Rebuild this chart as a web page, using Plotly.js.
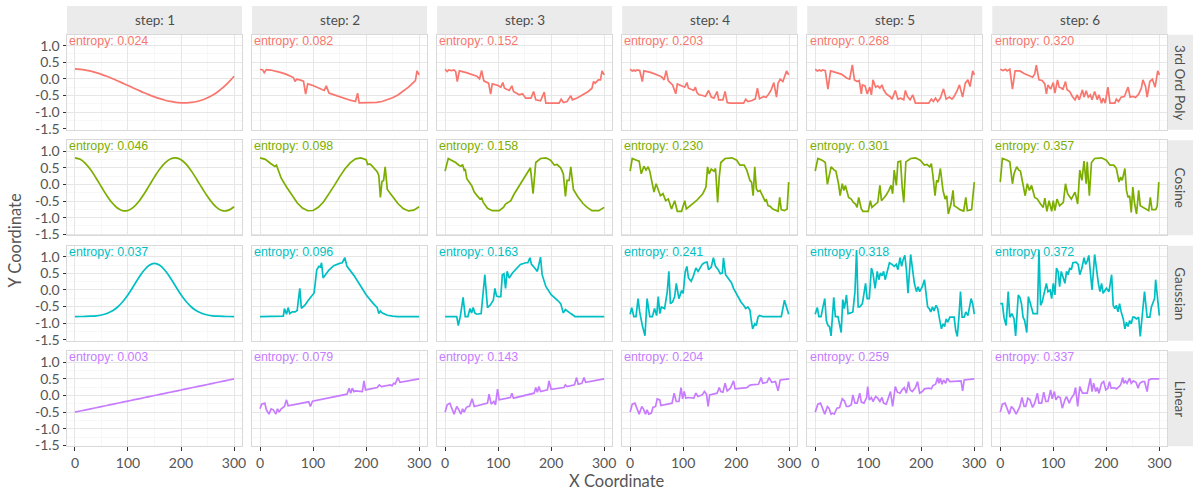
<!DOCTYPE html>
<html><head><meta charset="utf-8">
<script src="https://cdn.plot.ly/plotly-3.0.1.min.js"></script>
<style>html,body{margin:0;padding:0;background:#fff}#chart{width:1193px;height:491px}</style>
</head><body><div id="chart"></div>
<script>
// ---------- categories / labels ----------
const steps = ['step: 1','step: 2','step: 3','step: 4','step: 5','step: 6'];
const groups = ['3rd Ord Poly','Cosine','Gaussian','Linear'];
const groupColors = ['#F8766D','#7CAE00','#00BFC4','#C77CFF'];
const entropyPoly = ['0.024','0.082','0.152','0.203','0.268','0.320'];
const entropyCos  = ['0.046','0.098','0.158','0.230','0.301','0.357'];
const entropyGau  = ['0.037','0.096','0.163','0.241','0.318','0.372'];
const entropyLin  = ['0.003','0.079','0.143','0.204','0.259','0.337'];
const xTickVals = [0,100,200,300];
const xTickText = ['0','100','200','300'];
const yTickVals = [-1.5,-1,-0.5,0,0.5,1];
const yTickText = ['-1.5','-1.0','-0.5','0.0','0.5','1.0'];

// ---------- step 1 (smooth) series ----------
const X10 = [0,10,20,30,40,50,60,70,80,90,100,110,120,130,140,150,160,170,180,190,200,210,220,230,240,250,260,270,280,290,300];
const poly1Y = [0.300,0.289,0.266,0.232,0.188,0.136,0.077,0.013,-0.056,-0.127,-0.200,-0.273,-0.345,-0.415,-0.481,-0.541,-0.595,-0.642,-0.679,-0.706,-0.720,-0.722,-0.709,-0.680,-0.634,-0.569,-0.485,-0.379,-0.251,-0.098,0.079];
const cos1Y  = [0.800,0.756,0.629,0.432,0.188,-0.077,-0.333,-0.553,-0.711,-0.792,-0.785,-0.690,-0.523,-0.296,-0.037,0.227,0.464,0.650,0.768,0.799,0.745,0.603,0.393,0.143,-0.116,-0.364,-0.575,-0.729,-0.798,-0.774,-0.671];
const gau1Y  = [-0.800,-0.799,-0.796,-0.790,-0.778,-0.754,-0.710,-0.636,-0.520,-0.355,-0.142,0.106,0.362,0.588,0.744,0.800,0.744,0.588,0.362,0.106,-0.142,-0.355,-0.520,-0.636,-0.710,-0.754,-0.778,-0.790,-0.796,-0.799,-0.800];
const lin1Y  = [-0.5,-0.467,-0.433,-0.4,-0.367,-0.333,-0.3,-0.267,-0.233,-0.2,-0.167,-0.133,-0.1,-0.067,-0.033,0,0.033,0.067,0.1,0.133,0.167,0.2,0.233,0.267,0.3,0.333,0.367,0.4,0.433,0.467,0.5];

// ---------- noisy series: [x, y] pairs ----------
const poly2 = [[0,0.29],[5,0.27],[8,0.19],[12,0.28],[20,0.266],[30,0.232],[40,0.188],[50,0.136],[60,0.077],[63,0.04],[66,-0.08],[69,-0.01],[75,-0.03],[82,-0.07],[86,-0.46],[90,-0.15],[100,-0.2],[110,-0.273],[121,-0.35],[125,-0.21],[130,-0.43],[140,-0.481],[150,-0.541],[160,-0.595],[170,-0.642],[180,-0.68],[184,-0.43],[187,-0.72],[195,-0.72],[200,-0.72],[210,-0.722],[220,-0.709],[230,-0.68],[240,-0.634],[250,-0.569],[260,-0.485],[270,-0.379],[280,-0.251],[290,-0.098],[293,-0.05],[296,0.24],[300,0.12]];
const poly3 = [[0,0.29],[4,0.22],[7,0.27],[12,0.25],[17,0.27],[20,0.22],[23,-0.08],[27,0.24],[40,0.188],[50,0.136],[60,0.077],[65,0.0],[69,0.25],[73,-0.06],[82,-0.13],[86,-0.46],[89,-0.15],[100,-0.2],[105,-0.25],[109,-0.11],[112,-0.28],[121,-0.35],[126,-0.21],[129,-0.38],[140,-0.48],[146,-0.45],[152,-0.58],[162,-0.58],[167,-0.38],[171,-0.63],[180,-0.66],[187,-0.4],[190,-0.73],[215,-0.73],[219,-0.61],[223,-0.71],[230,-0.68],[237,-0.51],[240,-0.63],[250,-0.569],[260,-0.485],[270,-0.379],[277,-0.28],[280,-0.08],[283,-0.13],[289,-0.03],[293,-0.03],[296,0.24],[300,0.12]];
const poly4 = [[0,0.29],[4,0.24],[7,0.27],[10,0.24],[13,0.27],[18,0.25],[23,-0.08],[26,0.24],[40,0.188],[50,0.136],[56,0.09],[60,0.05],[64,-0.03],[68,0.25],[72,-0.06],[80,-0.18],[86,-0.45],[89,-0.15],[103,-0.25],[107,-0.11],[110,-0.28],[120,-0.35],[123,-0.25],[126,-0.41],[130,-0.48],[137,-0.5],[142,-0.53],[148,-0.35],[153,-0.55],[158,-0.58],[164,-0.38],[167,-0.63],[175,-0.63],[179,-0.38],[183,-0.71],[188,-0.73],[214,-0.73],[218,-0.61],[222,-0.68],[230,-0.65],[236,-0.6],[240,-0.28],[244,-0.6],[252,-0.53],[256,-0.56],[261,-0.46],[266,-0.33],[271,-0.11],[276,-0.55],[279,-0.13],[283,-0.01],[288,-0.08],[295,0.24],[299,0.12]];
const poly5 = [[0,0.29],[4,0.24],[8,0.27],[11,0.24],[14,0.27],[19,0.25],[24,-0.31],[29,0.24],[40,0.188],[50,0.136],[60,0.02],[65,-0.01],[70,0.42],[74,-0.03],[79,-0.08],[83,-0.05],[87,-0.45],[89,-0.18],[94,-0.21],[98,-0.45],[103,-0.25],[106,-0.48],[109,-0.03],[114,-0.25],[118,-0.21],[122,-0.28],[126,-0.18],[129,-0.33],[134,-0.45],[141,-0.53],[145,-0.61],[151,-0.35],[156,-0.61],[161,-0.58],[167,-0.63],[170,-0.35],[174,-0.53],[179,-0.63],[184,-0.48],[189,-0.73],[214,-0.73],[219,-0.61],[223,-0.68],[227,-0.58],[231,-0.68],[236,-0.58],[242,-0.3],[247,-0.61],[253,-0.55],[258,-0.61],[262,-0.53],[267,-0.38],[272,-0.18],[278,-0.55],[283,-0.13],[288,-0.03],[292,-0.23],[297,0.24],[300,0.12]];
const poly6 = [[0,0.29],[5,0.25],[10,0.29],[13,0.24],[18,0.29],[23,-0.31],[28,0.24],[37,0.24],[45,0.16],[56,0.09],[61,0.05],[65,0.15],[68,0.41],[73,-0.03],[79,-0.05],[84,-0.15],[87,-0.45],[90,-0.18],[95,-0.31],[100,-0.11],[103,-0.43],[108,-0.03],[111,-0.25],[116,-0.28],[118,-0.33],[123,-0.08],[126,-0.33],[131,-0.38],[136,-0.53],[141,-0.63],[145,-0.48],[149,-0.63],[155,-0.33],[158,-0.55],[162,-0.36],[166,-0.55],[170,-0.48],[173,-0.63],[178,-0.38],[183,-0.63],[186,-0.48],[191,-0.73],[194,-0.58],[198,-0.73],[203,-0.25],[207,-0.73],[216,-0.73],[219,-0.61],[223,-0.68],[228,-0.55],[234,-0.53],[241,-0.25],[245,-0.55],[250,-0.53],[255,-0.56],[261,-0.46],[266,-0.28],[269,-0.03],[274,-0.23],[277,-0.55],[282,-0.08],[287,-0.01],[292,-0.25],[297,0.24],[300,0.12]];

const cos2 = [[0,0.8],[10,0.756],[20,0.629],[25,0.58],[28,0.54],[31,0.58],[36,0.35],[40,0.188],[50,-0.077],[60,-0.333],[70,-0.553],[80,-0.711],[90,-0.792],[100,-0.785],[110,-0.69],[120,-0.523],[130,-0.296],[140,-0.037],[150,0.227],[160,0.464],[170,0.65],[180,0.768],[190,0.799],[200,0.745],[203,0.6],[207,0.62],[210,0.58],[215,0.48],[221,0.38],[224,0.27],[227,-0.39],[230,0.09],[233,0.12],[236,0.53],[240,-0.15],[250,-0.364],[260,-0.575],[270,-0.729],[280,-0.798],[290,-0.774],[300,-0.671]];
const cos3 = [[0,0.4],[6,0.78],[12,0.73],[20,0.66],[26,0.58],[30,0.55],[33,0.6],[36,0.43],[38,0.46],[41,0.17],[50,-0.03],[55,-0.23],[60,-0.33],[66,-0.44],[69,-0.41],[72,-0.54],[80,-0.72],[89,-0.79],[102,-0.79],[110,-0.69],[114,-0.59],[119,-0.54],[124,-0.49],[130,-0.296],[140,-0.037],[150,0.227],[161,0.5],[166,-0.28],[171,0.66],[180,0.78],[190,0.8],[199,0.73],[206,0.58],[211,0.6],[218,0.5],[223,0.32],[227,-0.36],[230,0.12],[234,0.12],[237,0.53],[242,-0.15],[250,-0.364],[260,-0.575],[268,-0.69],[277,-0.79],[290,-0.79],[300,-0.69]];
const cos4 = [[0,0.4],[4,0.78],[12,0.73],[17,0.7],[21,0.32],[26,0.55],[30,0.43],[34,0.53],[37,0.4],[41,0.02],[45,-0.23],[49,0.02],[53,-0.18],[57,-0.34],[62,-0.28],[67,-0.49],[72,-0.44],[78,-0.74],[84,-0.49],[89,-0.81],[97,-0.81],[103,-0.49],[106,-0.74],[112,-0.66],[119,-0.59],[125,-0.49],[137,-0.28],[143,-0.08],[146,0.53],[149,0.32],[153,0.46],[158,0.4],[161,0.48],[165,-0.54],[168,0.22],[171,0.66],[179,0.78],[192,0.8],[201,0.73],[207,0.58],[215,0.58],[220,0.43],[226,0.12],[229,0.07],[232,-0.34],[235,0.53],[238,-0.13],[241,-0.21],[245,-0.18],[249,-0.34],[254,-0.49],[257,-0.46],[260,-0.64],[264,-0.66],[269,-0.74],[279,-0.81],[282,-0.39],[285,-0.76],[291,-0.79],[296,-0.74],[299,0.07]];
const cos5 = [[0,0.4],[5,0.78],[13,0.73],[19,0.66],[23,0.0],[27,0.32],[30,0.53],[36,0.43],[39,0.4],[44,0.02],[47,-0.34],[51,0.02],[54,-0.18],[57,-0.03],[60,-0.18],[63,-0.39],[68,-0.44],[72,-0.54],[76,-0.59],[79,-0.69],[82,-0.39],[87,-0.74],[90,-0.81],[100,-0.81],[104,-0.49],[107,-0.69],[114,-0.59],[118,-0.54],[122,-0.03],[125,-0.49],[133,-0.34],[139,-0.18],[143,-0.03],[146,-0.28],[149,0.43],[153,-0.03],[156,0.68],[161,0.7],[164,-0.08],[167,-0.54],[171,0.68],[180,0.78],[189,0.8],[198,0.73],[206,0.58],[211,0.6],[216,0.53],[219,0.63],[222,0.27],[226,-0.34],[229,0.12],[232,0.07],[236,0.48],[241,-0.18],[245,-0.44],[248,-0.34],[251,-0.89],[256,-0.59],[260,-0.18],[262,-0.64],[267,-0.69],[273,-0.76],[280,-0.8],[284,-0.39],[287,-0.79],[295,-0.76],[300,0.07]];
const cos6 = [[0,0.07],[4,0.78],[13,0.73],[18,0.68],[23,0.02],[26,0.32],[31,0.53],[35,0.43],[38,0.4],[43,-0.03],[47,-0.34],[51,0.02],[55,-0.18],[59,-0.03],[62,-0.18],[65,-0.39],[70,-0.44],[73,-0.54],[76,-0.59],[81,-0.69],[84,-0.41],[88,-0.81],[92,-0.49],[97,-0.81],[100,-0.49],[103,-0.79],[107,-0.44],[112,-0.64],[119,-0.54],[123,0.02],[127,-0.28],[134,-0.44],[141,-0.23],[146,-0.59],[150,0.43],[154,0.12],[158,0.7],[162,0.02],[164,0.68],[168,-0.34],[172,0.66],[178,0.78],[191,0.8],[200,0.73],[207,0.58],[214,0.58],[219,0.48],[224,0.07],[227,0.22],[230,0.12],[235,0.48],[238,-0.18],[241,-0.39],[244,-0.34],[247,-0.84],[250,-0.08],[253,-0.54],[257,-0.89],[261,-0.18],[264,-0.64],[269,-0.69],[275,-0.76],[280,-0.79],[283,-0.39],[286,-0.76],[293,-0.76],[296,-0.66],[299,0.07]];

const gau2 = [[0,-0.8],[40,-0.8],[44,-0.79],[46,-0.56],[50,-0.73],[53,-0.53],[56,-0.71],[61,-0.66],[66,-0.66],[70,-0.62],[73,-0.2],[75,0.05],[78,-0.55],[85,-0.45],[90,-0.33],[95,-0.22],[102,-0.09],[107,0.61],[111,0.71],[114,0.69],[116,0.82],[119,0.36],[124,0.46],[130,0.6],[139,0.73],[145,0.78],[150,0.8],[155,0.82],[160,0.97],[164,0.71],[170,0.6],[177,0.44],[185,0.24],[190,0.106],[200,-0.142],[212,-0.38],[218,-0.47],[221,-0.53],[224,-0.71],[227,-0.63],[230,-0.69],[235,-0.72],[240,-0.76],[250,-0.785],[260,-0.8],[300,-0.8]];
const gau3 = [[0,-0.8],[22,-0.8],[25,-1.07],[29,-0.77],[34,-0.22],[38,-0.8],[43,-0.8],[47,-0.56],[50,-0.69],[53,-0.53],[56,-0.69],[60,-0.73],[68,-0.71],[72,-0.05],[75,0.46],[80,-0.53],[85,-0.46],[91,-0.31],[94,0.05],[97,-0.18],[100,-0.2],[105,-0.2],[108,0.46],[111,0.49],[114,0.05],[117,0.56],[121,0.36],[127,0.51],[135,0.66],[142,0.77],[152,0.82],[156,0.82],[160,0.97],[163,0.77],[169,0.66],[174,0.56],[180,0.99],[183,0.46],[190,0.106],[200,-0.142],[212,-0.31],[218,-0.41],[223,-0.69],[227,-0.59],[237,-0.71],[245,-0.8],[260,-0.8],[300,-0.8]];
const gau4 = [[0,-0.73],[3,-0.53],[7,-0.8],[11,-0.8],[15,-0.26],[18,-0.66],[23,-1.07],[28,-1.38],[32,-0.26],[37,-0.8],[42,-0.8],[46,-0.56],[50,-0.77],[53,-0.2],[56,-0.71],[59,-0.51],[65,-0.56],[70,-0.05],[73,0.56],[76,-0.41],[80,-0.36],[84,-0.2],[87,0.2],[90,-0.15],[92,-0.26],[97,-0.02],[100,-0.1],[104,0.56],[107,0.71],[110,0.36],[115,0.26],[119,0.41],[124,0.66],[128,0.56],[132,0.66],[136,0.77],[140,0.82],[145,0.84],[148,0.61],[153,0.69],[157,0.97],[161,0.71],[166,0.61],[170,0.49],[174,0.51],[176,0.97],[180,0.46],[185,0.36],[191,0.22],[195,0.05],[203,-0.2],[209,-0.36],[214,-0.46],[218,-0.56],[222,-0.51],[226,-0.61],[228,-0.87],[231,-1.17],[235,-1.02],[238,-1.07],[241,-0.82],[244,-0.77],[250,-0.8],[285,-0.8],[291,-0.31],[295,-0.5],[299,-0.73]];
const gau5 = [[0,-0.73],[4,-0.53],[7,-0.8],[11,-0.8],[14,-0.56],[18,-0.26],[21,-0.92],[24,-1.07],[27,-1.1],[30,-1.38],[35,-0.22],[38,-0.8],[43,-0.8],[46,-1.04],[49,-1.28],[52,-0.29],[55,-0.56],[59,-0.15],[62,-0.71],[67,-0.69],[71,-0.66],[75,-0.05],[78,1.2],[81,-0.51],[84,-0.51],[89,-0.41],[92,-0.15],[95,0.2],[98,-0.26],[102,-0.26],[106,0.66],[109,0.49],[113,0.05],[117,0.56],[120,0.31],[123,0.51],[126,0.43],[129,0.56],[132,0.31],[137,0.66],[140,0.82],[145,0.77],[149,0.71],[153,0.77],[156,0.61],[160,0.97],[163,0.71],[166,0.92],[169,1.04],[172,0.61],[175,-0.1],[180,1.07],[184,0.46],[187,0.2],[191,-0.05],[194,0.1],[197,-0.05],[202,0.1],[206,0.31],[209,-0.2],[212,-0.51],[215,-0.56],[218,-0.66],[221,-0.51],[224,-0.63],[228,-0.46],[231,-0.56],[235,-0.92],[238,-1.17],[241,-1.02],[244,-1.1],[247,-0.87],[250,-0.97],[254,-0.82],[262,-0.82],[265,-1.22],[268,-1.4],[271,-0.82],[274,-0.05],[277,-0.82],[281,-0.82],[284,-0.66],[288,-0.77],[294,-0.26],[297,-0.41],[300,-0.73]];
const gau6 = [[0,-0.41],[4,-0.41],[7,-0.82],[11,-1.07],[15,-0.05],[18,-0.82],[22,-0.71],[26,-0.87],[29,-1.38],[34,-0.15],[37,-0.22],[40,-0.41],[43,-0.82],[46,-0.92],[50,-1.28],[53,-0.2],[56,-0.36],[59,-0.56],[62,-0.71],[65,-0.71],[70,-0.71],[73,1.2],[76,-0.46],[79,-0.36],[84,-0.05],[87,0.2],[90,-0.05],[94,0.0],[97,-0.26],[100,0.2],[103,-0.15],[106,0.66],[109,0.56],[112,0.1],[115,0.56],[118,0.41],[122,0.2],[125,0.56],[128,0.46],[131,0.66],[134,0.61],[137,0.82],[143,0.84],[147,0.77],[150,0.46],[154,0.66],[158,0.97],[161,0.77],[164,0.87],[167,1.04],[170,0.56],[173,0.0],[178,1.07],[182,0.46],[185,0.2],[188,-0.05],[191,0.2],[194,-0.1],[197,0.0],[200,0.05],[205,-0.05],[210,0.46],[213,-0.46],[216,-0.56],[219,-0.46],[222,-0.66],[225,-0.41],[228,-0.66],[232,-0.87],[235,-1.17],[238,-0.97],[241,-1.1],[244,-0.92],[247,-1.02],[250,-0.82],[253,-0.82],[257,-0.87],[261,-0.82],[264,-1.4],[268,-0.82],[272,-0.05],[277,-0.82],[282,-0.82],[285,-0.51],[288,-0.36],[291,-0.26],[293,0.31],[298,-0.51],[300,-0.77]];

const lin2 = [[0,-0.4],[3,-0.26],[9,-0.23],[12,-0.43],[17,-0.56],[21,-0.4],[25,-0.43],[30,-0.56],[33,-0.4],[36,-0.5],[40,-0.4],[43,-0.36],[46,-0.33],[50,-0.13],[53,-0.31],[92,-0.19],[95,-0.33],[99,-0.17],[164,0.04],[168,0.22],[171,0.07],[174,0.22],[177,0.12],[180,0.14],[193,0.12],[196,0.44],[199,0.17],[221,0.24],[225,0.32],[229,0.27],[246,0.32],[249,0.29],[252,0.37],[255,0.35],[258,0.48],[260,0.54],[264,0.4],[300,0.5]];
const lin3 = [[0,-0.5],[4,-0.28],[9,-0.23],[12,-0.38],[17,-0.56],[22,-0.33],[25,-0.4],[30,-0.56],[33,-0.4],[36,-0.5],[40,-0.36],[43,-0.33],[46,-0.33],[51,-0.1],[55,-0.33],[80,-0.23],[83,0.04],[87,-0.26],[92,-0.18],[95,-0.28],[99,0.19],[102,-0.13],[123,-0.06],[126,0.07],[129,-0.08],[168,0.07],[171,0.24],[174,0.1],[177,0.27],[180,0.12],[193,0.17],[196,0.44],[200,0.19],[224,0.24],[227,0.32],[230,0.27],[244,0.32],[248,0.54],[251,0.34],[258,0.37],[262,0.54],[265,0.4],[300,0.5]];
const lin4 = [[0,-0.5],[4,-0.26],[9,-0.23],[12,-0.38],[17,-0.56],[22,-0.33],[25,-0.4],[29,-0.56],[32,-0.43],[35,-0.56],[40,-0.53],[43,-0.36],[48,-0.33],[51,-0.1],[56,-0.13],[58,-0.3],[79,-0.23],[83,0.07],[87,-0.18],[92,-0.18],[96,0.24],[99,-0.1],[102,0.12],[105,-0.08],[109,-0.06],[120,-0.08],[124,0.07],[128,-0.03],[136,0.02],[140,0.12],[144,0.04],[147,-0.33],[150,0.02],[164,0.07],[168,0.24],[171,0.12],[175,0.1],[179,0.37],[183,0.14],[189,0.22],[195,0.44],[198,0.2],[214,0.22],[220,0.24],[225,0.3],[228,0.32],[242,0.34],[247,0.54],[250,0.37],[258,0.4],[262,0.54],[267,0.4],[274,0.42],[279,0.14],[283,0.47],[300,0.5]];
const lin5 = [[0,-0.5],[5,-0.26],[10,-0.23],[13,-0.38],[18,-0.56],[23,-0.33],[26,-0.38],[30,-0.56],[33,-0.53],[36,-0.56],[41,-0.38],[46,-0.36],[51,-0.1],[55,-0.16],[59,-0.33],[63,-0.33],[68,-0.28],[71,0.02],[75,-0.23],[79,-0.23],[84,0.07],[87,-0.2],[92,-0.23],[97,-0.06],[99,0.27],[102,-0.13],[106,-0.06],[109,-0.18],[114,-0.03],[118,-0.08],[122,-0.18],[126,-0.06],[129,-0.23],[134,-0.26],[139,-0.03],[142,0.12],[146,-0.33],[151,0.27],[155,0.1],[160,0.07],[164,0.17],[168,0.24],[172,0.07],[176,0.42],[179,0.17],[183,0.12],[189,0.24],[193,0.42],[197,0.07],[202,0.12],[206,0.2],[214,0.22],[219,0.2],[222,0.3],[227,0.34],[231,0.54],[233,0.37],[236,0.52],[239,0.34],[242,0.47],[246,0.37],[249,0.52],[254,0.42],[262,0.42],[268,0.42],[275,0.44],[278,0.14],[281,0.47],[300,0.5]];
const lin6 = [[0,-0.5],[4,-0.26],[9,-0.23],[12,-0.38],[17,-0.56],[21,-0.33],[25,-0.4],[30,-0.56],[34,-0.43],[37,-0.33],[41,-0.06],[45,-0.33],[48,-0.33],[52,-0.08],[56,-0.13],[61,-0.36],[65,-0.23],[70,0.07],[73,-0.23],[78,-0.23],[82,0.1],[86,-0.18],[90,-0.18],[95,0.17],[98,-0.1],[102,0.12],[105,-0.13],[109,-0.03],[113,-0.06],[117,-0.38],[122,-0.13],[125,-0.03],[130,-0.23],[134,-0.08],[139,0.04],[142,0.24],[146,-0.33],[150,0.27],[155,0.07],[159,0.07],[164,0.07],[170,0.52],[173,0.12],[176,0.37],[180,0.12],[183,0.24],[186,0.07],[191,0.37],[195,0.42],[199,0.17],[203,0.22],[206,0.42],[209,0.22],[214,0.24],[219,0.2],[224,0.27],[227,0.32],[231,0.54],[233,0.37],[236,0.44],[239,0.37],[244,0.52],[247,0.37],[251,0.44],[256,0.4],[260,0.22],[263,0.37],[268,0.42],[272,0.42],[277,0.12],[280,0.47],[285,0.5],[300,0.5]];

// ---------- assemble ----------
const pairsToXY = p => ({x: p.map(d => d[0]), y: p.map(d => d[1])});
const rowsData = [
  [{x: X10, y: poly1Y}, pairsToXY(poly2), pairsToXY(poly3), pairsToXY(poly4), pairsToXY(poly5), pairsToXY(poly6)],
  [{x: X10, y: cos1Y},  pairsToXY(cos2),  pairsToXY(cos3),  pairsToXY(cos4),  pairsToXY(cos5),  pairsToXY(cos6)],
  [{x: X10, y: gau1Y},  pairsToXY(gau2),  pairsToXY(gau3),  pairsToXY(gau4),  pairsToXY(gau5),  pairsToXY(gau6)],
  [{x: X10, y: lin1Y},  pairsToXY(lin2),  pairsToXY(lin3),  pairsToXY(lin4),  pairsToXY(lin5),  pairsToXY(lin6)]
];
const entropies = [entropyPoly, entropyCos, entropyGau, entropyLin];

const W = 1193, H = 491;
const colLeft = [67, 252.06, 437.12, 622.18, 807.24, 992.3];
const PW = 175;
const rowTop = [34.7, 140.25, 245.8, 351.35];
const PH = 95;
const stripTop = 6;
const stripRight = 1193;
const px = v => v / W;
const py = v => 1 - v / H;

const textGrey = '#4D4D4D';
const tickFont = {family: 'Lato, "Open Sans", sans-serif', size: 14, color: '#555555'};
const stripFont = {family: 'Lato, "Open Sans", sans-serif', size: 13.5, color: textGrey};
const borderColor = '#D9D9D9';
const majorGrid = '#E6E6E6';
const minorGrid = '#F3F3F3';

const traces = [];
const layout = {
  width: W, height: H,
  margin: {l: 0, r: 0, t: 0, b: 0},
  paper_bgcolor: '#FFFFFF', plot_bgcolor: '#FFFFFF',
  showlegend: false, hovermode: false,
  annotations: [], shapes: []
};

for (let r = 0; r < 4; r++) {
  for (let c = 0; c < 6; c++) {
    const k = r * 6 + c + 1;
    const sfx = k === 1 ? '' : String(k);
    const d = rowsData[r][c];
    traces.push({
      type: 'scatter', mode: 'lines', x: d.x, y: d.y,
      xaxis: 'x' + sfx, yaxis: 'y' + sfx,
      line: {color: groupColors[r], width: 1.7, shape: c === 0 ? 'spline' : 'linear'}
    });
    layout['xaxis' + sfx] = {
      domain: [px(colLeft[c]), px(colLeft[c] + PW)],
      anchor: 'y' + sfx,
      range: [-15, 315],
      tickmode: 'array', tickvals: xTickVals, ticktext: xTickText,
      showticklabels: r === 3,
      ticks: r === 3 ? 'outside' : '', ticklen: 3.5, tickwidth: 1, tickcolor: '#333333',
      tickfont: tickFont,
      showgrid: true, gridcolor: majorGrid, gridwidth: 1,
      minor: {tickmode: 'array', tickvals: [50, 150, 250], showgrid: true, gridcolor: minorGrid, gridwidth: 0.7, ticks: ''},
      zeroline: false,
      showline: true, mirror: true, linecolor: borderColor, linewidth: 1,
      fixedrange: true
    };
    layout['yaxis' + sfx] = {
      domain: [py(rowTop[r] + PH), py(rowTop[r])],
      anchor: 'x' + sfx,
      range: [-1.53, 1.33],
      tickmode: 'array', tickvals: yTickVals, ticktext: yTickText,
      showticklabels: c === 0,
      ticks: c === 0 ? 'outside' : '', ticklen: 3.5, tickwidth: 1, tickcolor: '#333333',
      tickfont: tickFont,
      showgrid: true, gridcolor: majorGrid, gridwidth: 1,
      minor: {tickmode: 'array', tickvals: [-1.25, -0.75, -0.25, 0.25, 0.75, 1.25], showgrid: true, gridcolor: minorGrid, gridwidth: 0.7, ticks: ''},
      zeroline: false,
      showline: true, mirror: true, linecolor: borderColor, linewidth: 1,
      fixedrange: true
    };
    layout.annotations.push({
      xref: 'x' + sfx, yref: 'y' + sfx, x: -14.5, y: 1.15,
      xanchor: 'left', yanchor: 'middle', showarrow: false,
      text: 'entropy: ' + entropies[r][c],
      font: {family: '"Liberation Sans", Arial, sans-serif', size: 12.4, color: groupColors[r]}
    });
  }
}

// top strips
for (let c = 0; c < 6; c++) {
  layout.shapes.push({type: 'rect', xref: 'paper', yref: 'paper',
    x0: px(colLeft[c]), x1: px(colLeft[c] + PW), y0: py(rowTop[0]), y1: py(stripTop),
    fillcolor: '#EBEBEB', line: {width: 0}, layer: 'below'});
  layout.annotations.push({xref: 'paper', yref: 'paper',
    x: px(colLeft[c] + PW / 2), y: py((stripTop + rowTop[0]) / 2),
    xanchor: 'center', yanchor: 'middle', showarrow: false,
    text: steps[c], font: stripFont});
}
// right strips
const stripX0 = colLeft[5] + PW;
for (let r = 0; r < 4; r++) {
  layout.shapes.push({type: 'rect', xref: 'paper', yref: 'paper',
    x0: px(stripX0), x1: px(stripRight), y0: py(rowTop[r] + PH), y1: py(rowTop[r]),
    fillcolor: '#EBEBEB', line: {width: 0}, layer: 'below'});
  layout.annotations.push({xref: 'paper', yref: 'paper',
    x: px((stripX0 + stripRight) / 2), y: py(rowTop[r] + PH / 2),
    xanchor: 'center', yanchor: 'middle', showarrow: false, textangle: 90,
    text: groups[r], font: stripFont});
}
// axis titles
layout.annotations.push({xref: 'paper', yref: 'paper',
  x: px((colLeft[0] + colLeft[5] + PW) / 2), y: py(481),
  xanchor: 'center', yanchor: 'middle', showarrow: false,
  text: 'X Coordinate', font: {family: 'Lato, "Open Sans", sans-serif', size: 16.5, color: '#555555'}});
layout.annotations.push({xref: 'paper', yref: 'paper',
  x: px(15), y: py((rowTop[0] + rowTop[3] + PH) / 2),
  xanchor: 'center', yanchor: 'middle', showarrow: false, textangle: -90,
  text: 'Y Coordinate', font: {family: 'Lato, "Open Sans", sans-serif', size: 16.5, color: '#555555'}});

Plotly.newPlot('chart', traces, layout, {staticPlot: true, displayModeBar: false});
</script>
</body></html>
